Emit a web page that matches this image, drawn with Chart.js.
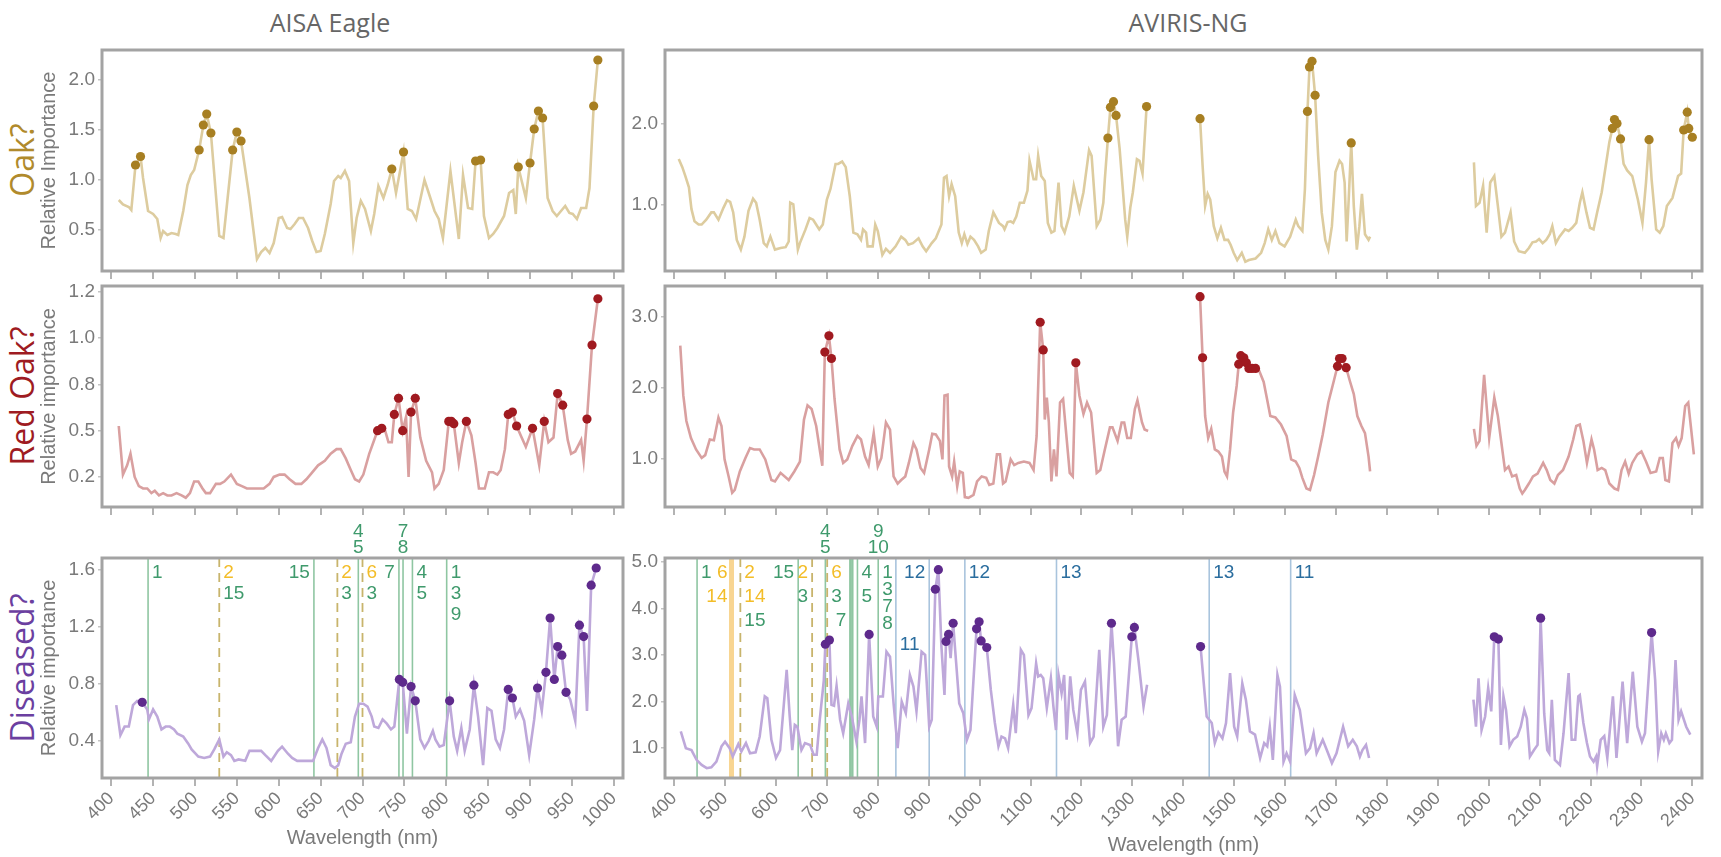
<!DOCTYPE html>
<html>
<head>
<meta charset="utf-8">
<script src="https://cdn.jsdelivr.net/npm/chart.js@4"></script>
<style>
  body { margin: 0; background: #fff; width: 1721px; height: 857px; overflow: hidden; position: relative; }
  canvas { position: absolute; }
  .t { position: absolute; transform: translate(-50%, -50%); white-space: nowrap; color: #666; font-family: "Open Sans", sans-serif; }
  .rot { transform: translate(-50%, -50%) rotate(-90deg); }
</style>
</head>
<body>
<div class="t" style="left:330px;top:22px;font-size:25px">AISA Eagle</div>
<div class="t" style="left:1188px;top:22px;font-size:25px">AVIRIS-NG</div>
<div class="t rot" style="left:21px;top:160px;font-size:32px;color:#b08a2c">Oak?</div>
<div class="t rot" style="left:21px;top:396px;font-size:32px;color:#9e1b22">Red Oak?</div>
<div class="t rot" style="left:21px;top:668px;font-size:32px;color:#6b3fa0">Diseased?</div>
<script>
// ---- data: [wavelength nm, relative importance] ----
const aisaOak = [[409,0.80],[414,0.755],[421,0.73],[424,0.70],[429,1.15],[435,1.235],[438,1.02],[444,0.69],[450,0.66],[455,0.61],
  [459,0.42],[462,0.49],[467,0.45],[472,0.47],[477,0.46],[480,0.45],[486,0.69],[491,0.95],[495,1.05],[499,1.10],
  [505,1.30],[510,1.55],[514,1.66],[519,1.47],[529,0.44],[534,0.42],[545,1.30],[550,1.48],[555,1.39],[565,0.82],
  [574,0.21],[579,0.28],[584,0.32],[589,0.27],[594,0.37],[600,0.62],[604,0.63],[610,0.52],[614,0.51],[619,0.56],
  [624,0.62],[629,0.62],[635,0.52],[640,0.39],[645,0.28],[650,0.29],[655,0.46],[662,0.76],[666,0.99],[671,1.04],
  [674,1.02],[679,1.09],[684,0.99],[689,0.37],[693,0.62],[698,0.79],[703,0.71],[710,0.49],[714,0.66],[719,0.94],
  [725,0.82],[730,0.95],[735,1.11],[740,0.87],[749,1.28],[754,0.71],[759,0.69],[764,0.61],[774,1.00],[781,0.82],
  [786,0.69],[791,0.61],[796,0.42],[805,1.09],[815,0.41],[820,1.05],[826,0.72],[831,0.71],[835,1.19],[841,1.20],
  [845,0.64],[851,0.42],[856,0.46],[861,0.52],[869,0.64],[875,0.87],[880,0.90],[883,0.66],[886,1.13],[895,0.82],
  [900,1.17],[905,1.51],[910,1.69],[915,1.62],[921,0.82],[927,0.69],[932,0.64],[937,0.69],[942,0.74],[947,0.67],
  [951,0.66],[956,0.61],[961,0.72],[967,0.72],[971,0.92],[976,1.74],[981,2.20]];
const aisaOakPeaks = [429,435,505,510,514,519,545,550,555,735,749,835,841,886,900,905,910,915,976,981];

const aisaRed = [[409,0.62],[414,0.41],[419,0.45],[423,0.50],[428,0.40],[433,0.36],[438,0.35],[443,0.35],[448,0.33],[452,0.34],
  [457,0.32],[462,0.33],[467,0.32],[472,0.32],[478,0.33],[484,0.32],[489,0.31],[494,0.33],[499,0.38],[504,0.38],
  [509,0.35],[513,0.33],[518,0.33],[525,0.37],[530,0.37],[535,0.38],[543,0.41],[550,0.37],[556,0.36],[562,0.35],
  [568,0.35],[574,0.35],[582,0.35],[589,0.37],[594,0.40],[601,0.41],[607,0.41],[613,0.39],[620,0.37],[627,0.37],
  [633,0.39],[640,0.42],[647,0.45],[655,0.47],[662,0.50],[669,0.52],[674,0.52],[680,0.48],[686,0.43],[691,0.39],
  [696,0.38],[701,0.41],[708,0.50],[713,0.55],[718,0.60],[723,0.61],[727,0.60],[731,0.55],[735,0.55],[738,0.67],
  [743,0.74],[748,0.60],[752,0.66],[755,0.40],[758,0.68],[763,0.74],[769,0.57],[776,0.47],[783,0.42],[786,0.35],
  [791,0.37],[797,0.43],[803,0.64],[806,0.64],[809,0.63],[815,0.46],[819,0.55],[824,0.64],[830,0.58],[835,0.46],
  [839,0.35],[846,0.35],[851,0.42],[856,0.42],[861,0.41],[865,0.43],[870,0.52],[874,0.67],[879,0.68],[884,0.62],
  [890,0.57],[895,0.53],[903,0.61],[911,0.45],[917,0.64],[922,0.55],[928,0.57],[933,0.76],[939,0.71],[945,0.56],
  [949,0.50],[954,0.51],[961,0.56],[964,0.47],[968,0.65],[974,0.97],[981,1.17]];
const aisaRedPeaks = [718,723,738,743,748,758,763,803,806,809,824,874,879,884,903,917,933,939,968,974,981];

const aisaDis = [[406,0.65],[411,0.44],[416,0.50],[421,0.50],[426,0.65],[431,0.68],[437,0.67],[443,0.62],[445,0.55],[450,0.62],
  [455,0.57],[460,0.48],[465,0.50],[470,0.50],[475,0.48],[479,0.45],[486,0.43],[492,0.38],[496,0.34],[504,0.29],
  [511,0.28],[518,0.29],[523,0.34],[529,0.41],[534,0.29],[538,0.32],[543,0.30],[547,0.26],[552,0.27],[560,0.26],
  [565,0.33],[572,0.33],[579,0.33],[584,0.30],[591,0.26],[599,0.33],[604,0.36],[611,0.31],[616,0.28],[622,0.26],
  [629,0.26],[635,0.26],[641,0.26],[647,0.35],[652,0.41],[657,0.35],[662,0.23],[667,0.21],[671,0.23],[675,0.31],
  [680,0.38],[686,0.39],[691,0.57],[696,0.66],[701,0.66],[706,0.64],[711,0.57],[714,0.50],[719,0.49],[724,0.55],
  [729,0.52],[734,0.48],[738,0.50],[744,0.83],[748,0.81],[753,0.45],[758,0.78],[763,0.68],[769,0.41],[774,0.35],
  [779,0.40],[784,0.47],[787,0.41],[792,0.36],[797,0.37],[804,0.68],[809,0.43],[813,0.33],[818,0.49],[822,0.33],
  [828,0.48],[833,0.79],[838,0.57],[844,0.23],[849,0.63],[854,0.61],[859,0.41],[864,0.35],[869,0.48],[874,0.76],
  [879,0.70],[883,0.57],[888,0.62],[893,0.54],[899,0.30],[905,0.55],[909,0.77],[914,0.61],[919,0.88],[924,1.26],
  [929,0.83],[933,1.06],[938,1.00],[943,0.74],[948,0.69],[954,0.54],[959,1.21],[964,1.13],[968,0.61],[973,1.49],
  [979,1.61]];
const aisaDisPeaks = [437,744,748,758,763,804,833,874,879,909,919,924,929,933,938,943,959,964,973,979];

const avirisOak = [[409,1.56],[416,1.46],[422,1.35],[429,1.21],[434,0.94],[440,0.79],[448,0.75],[454,0.75],[463,0.81],[473,0.90],
  [478,0.90],[487,0.81],[497,0.96],[504,1.05],[510,1.03],[516,0.90],[523,0.56],[531,0.44],[538,0.60],[546,0.92],
  [555,1.07],[561,1.02],[568,0.81],[576,0.52],[582,0.48],[589,0.60],[598,0.44],[609,0.46],[619,0.47],[625,0.54],
  [628,1.02],[634,1.00],[643,0.44],[647,0.52],[658,0.69],[666,0.83],[673,0.81],[685,0.69],[692,0.75],[700,1.06],
  [707,1.19],[717,1.50],[722,1.50],[730,1.53],[737,1.46],[745,1.10],[752,0.65],[760,0.63],[767,0.56],[771,0.69],
  [777,0.65],[780,0.48],[790,0.48],[795,0.75],[800,0.67],[809,0.375],[816,0.45],[824,0.40],[835,0.48],[846,0.60],
  [854,0.56],[860,0.50],[869,0.52],[880,0.58],[888,0.48],[895,0.42],[906,0.52],[914,0.58],[925,0.75],[930,1.33],
  [935,1.35],[940,1.10],[945,1.25],[952,1.10],[959,0.65],[965,0.52],[970,0.63],[976,0.51],[982,0.60],[989,0.56],
  [997,0.48],[1003,0.40],[1012,0.44],[1018,0.67],[1027,0.90],[1038,0.77],[1046,0.73],[1049,0.69],[1055,0.78],[1061,0.79],
  [1066,0.77],[1072,0.85],[1079,1.02],[1087,1.02],[1094,1.17],[1098,1.54],[1106,1.31],[1111,1.31],[1115,1.60],[1121,1.35],
  [1128,1.29],[1134,0.77],[1141,0.65],[1147,0.67],[1155,1.27],[1161,0.73],[1167,0.65],[1176,0.85],[1185,1.23],[1196,0.92],
  [1204,1.15],[1215,1.67],[1220,1.60],[1230,0.73],[1237,0.81],[1243,1.02],[1246,1.31],[1252,1.82],[1257,2.20],[1263,2.27],
  [1268,2.10],[1275,1.69],[1286,0.81],[1290,0.60],[1296,0.96],[1301,1.15],[1309,1.56],[1314,1.54],[1320,1.38],[1328,2.21],
  [1380,null],
  [1433,2.06],[1438,1.48],[1443,0.98],[1448,1.13],[1453,1.06],[1460,0.73],[1467,0.58],[1474,0.71],[1481,0.56],[1488,0.56],
  [1493,0.50],[1499,0.40],[1506,0.31],[1515,0.40],[1522,0.29],[1529,0.31],[1542,0.33],[1553,0.40],[1560,0.52],[1567,0.69],
  [1574,0.56],[1581,0.67],[1589,0.52],[1599,0.48],[1610,0.60],[1621,0.81],[1626,0.73],[1634,0.67],[1639,1.19],[1644,2.15],
  [1648,2.70],[1653,2.77],[1659,2.35],[1665,1.60],[1672,0.90],[1679,0.56],[1685,0.44],[1692,0.73],[1699,1.40],[1707,1.54],
  [1712,1.50],[1717,1.27],[1721,0.54],[1725,1.06],[1730,1.76],[1735,0.98],[1741,0.44],[1746,0.73],[1751,1.13],[1757,0.63],
  [1764,0.56],[1767,0.60],
  [1870,null],
  [1971,1.52],[1975,0.98],[1982,1.02],[1989,1.23],[1996,0.65],[2003,1.27],[2011,1.35],[2018,0.98],[2025,0.60],[2032,0.65],
  [2043,0.90],[2050,0.54],[2059,0.42],[2071,0.40],[2079,0.46],[2086,0.53],[2093,0.54],[2099,0.57],[2106,0.52],[2113,0.56],
  [2120,0.63],[2125,0.73],[2132,0.52],[2139,0.60],[2150,0.69],[2157,0.67],[2164,0.71],[2172,0.77],[2179,1.02],[2184,1.15],
  [2192,0.90],[2199,0.71],[2206,0.69],[2213,0.90],[2222,1.15],[2230,1.48],[2237,1.77],[2243,1.94],[2247,2.05],[2252,2.00],
  [2259,1.81],[2265,1.50],[2272,1.42],[2282,1.35],[2293,1.06],[2302,0.77],[2309,1.27],[2315,1.80],[2320,1.31],[2329,0.69],
  [2336,0.65],[2343,0.73],[2350,0.98],[2361,1.08],[2372,1.35],[2378,1.38],[2383,1.92],[2390,2.14],[2393,1.94],[2400,1.83]];
const avirisOakPeaks = [1252,1257,1263,1268,1328,1433,1644,1648,1653,1659,1730,2243,2247,2252,2259,2315,2383,2390,2393,2400];

const avirisRed = [[412,2.59],[418,1.89],[424,1.53],[433,1.29],[443,1.13],[454,1.01],[461,1.05],[470,1.27],[478,1.26],[487,1.58],
  [493,1.46],[499,0.99],[507,0.75],[514,0.52],[519,0.56],[529,0.82],[540,1.01],[549,1.15],[557,1.13],[568,1.13],
  [579,0.99],[591,0.70],[598,0.68],[609,0.80],[625,0.70],[636,0.82],[647,0.96],[655,1.55],[662,1.75],[670,1.70],
  [679,1.46],[687,1.08],[691,0.90],[696,2.50],[704,2.73],[709,2.41],[715,1.84],[725,1.13],[732,0.94],[740,0.99],
  [750,1.18],[760,1.32],[767,1.27],[775,1.03],[782,0.91],[792,1.36],[800,0.89],[807,1.01],[816,1.51],[824,1.41],
  [831,0.75],[839,0.65],[846,0.70],[854,0.75],[861,0.94],[870,1.22],[876,1.13],[884,0.87],[891,0.80],[901,1.13],
  [907,1.35],[914,1.34],[922,1.25],[927,0.99],[931,1.89],[937,1.90],[940,0.89],[946,0.75],[950,0.96],[956,0.61],
  [961,0.82],[967,0.80],[971,0.46],[978,0.45],[988,0.49],[995,0.68],[1004,0.75],[1013,0.73],[1019,0.63],[1027,0.65],
  [1034,1.06],[1040,1.06],[1046,0.65],[1051,0.68],[1061,0.99],[1068,0.91],[1076,0.94],[1087,0.96],[1098,0.94],[1106,0.84],
  [1112,1.32],[1119,2.92],[1125,2.53],[1128,1.55],[1132,1.86],[1136,1.51],[1141,0.68],[1146,1.13],[1151,0.75],[1158,1.79],
  [1164,1.84],[1170,1.36],[1177,0.80],[1183,0.75],[1189,2.35],[1196,1.89],[1204,1.63],[1211,1.79],[1219,1.65],[1230,0.80],
  [1237,0.84],[1246,1.13],[1256,1.44],[1261,1.44],[1271,1.25],[1279,1.51],[1284,1.51],[1290,1.29],[1297,1.29],[1305,1.70],
  [1310,1.82],[1319,1.51],[1324,1.41],[1331,1.39],
  [1380,null],
  [1433,3.28],[1438,2.42],[1443,1.60],[1449,1.29],[1455,1.42],[1462,1.13],[1469,1.10],[1476,1.03],[1481,0.82],[1486,0.75],
  [1492,1.13],[1498,1.65],[1505,2.03],[1509,2.33],[1513,2.45],[1519,2.42],[1524,2.35],[1529,2.27],[1535,2.27],[1542,2.27],
  [1549,2.24],[1558,2.08],[1564,1.86],[1571,1.60],[1581,1.58],[1592,1.48],[1603,1.32],[1612,0.99],[1621,0.96],[1628,0.87],
  [1634,0.73],[1642,0.58],[1649,0.56],[1657,0.77],[1665,1.03],[1674,1.34],[1685,1.79],[1696,2.10],[1703,2.30],[1707,2.41],
  [1712,2.41],[1720,2.28],[1727,2.10],[1735,1.91],[1742,1.60],[1750,1.46],[1757,1.36],[1764,1.03],[1767,0.82],
  [1870,null],
  [1971,1.42],[1976,1.18],[1982,1.25],[1991,2.18],[2001,1.29],[2011,1.86],[2018,1.60],[2025,1.22],[2032,0.84],[2039,0.89],
  [2046,0.75],[2054,0.77],[2061,0.58],[2066,0.51],[2071,0.56],[2079,0.65],[2087,0.75],[2096,0.79],[2107,0.94],[2114,0.84],
  [2121,0.70],[2129,0.65],[2136,0.77],[2146,0.84],[2157,1.03],[2166,1.27],[2172,1.46],[2179,1.48],[2186,1.25],[2193,0.94],
  [2202,1.27],[2207,1.13],[2214,0.84],[2222,0.87],[2229,0.84],[2237,0.65],[2247,0.58],[2254,0.56],[2261,0.84],[2268,0.96],
  [2275,0.79],[2282,0.94],[2292,1.06],[2300,1.10],[2309,0.96],[2318,0.80],[2329,0.82],[2336,1.01],[2342,1.01],[2347,0.70],
  [2354,0.68],[2361,1.22],[2368,1.29],[2373,1.18],[2379,1.29],[2386,1.74],[2392,1.79],[2397,1.46],[2403,1.06]];
const avirisRedPeaks = [696,704,709,1119,1125,1189,1433,1438,1509,1513,1519,1524,1529,1535,1542,1703,1707,1712,1720];

const avirisDis = [[413,1.36],[423,1.00],[434,0.96],[444,0.75],[454,0.64],[464,0.57],[473,0.59],[483,0.71],[493,1.04],[500,1.14],
  [509,1.00],[515,0.82],[526,1.09],[532,0.93],[541,1.11],[549,0.89],[560,0.91],[568,1.25],[578,2.11],[583,2.07],
  [591,1.18],[600,0.79],[608,0.96],[621,2.68],[627,1.68],[632,0.96],[637,1.50],[642,1.46],[650,0.96],[657,1.11],
  [667,1.07],[674,0.86],[680,0.86],[686,1.61],[694,2.46],[697,3.23],[705,3.32],[709,1.93],[714,1.91],[719,2.34],
  [726,1.61],[732,1.32],[742,1.96],[749,1.68],[758,1.14],[764,1.61],[768,2.11],[775,1.11],[783,3.44],[791,1.68],
  [798,1.46],[801,2.11],[810,2.11],[817,3.07],[824,2.96],[831,1.96],[839,1.00],[847,2.00],[855,1.75],[863,2.57],
  [870,2.32],[876,1.79],[886,3.07],[893,3.00],[901,1.46],[906,1.61],[913,4.41],[919,4.83],[925,3.18],[931,2.14],
  [934,3.29],[939,3.44],[943,2.93],[948,3.68],[954,2.82],[960,1.96],[968,1.75],[975,1.18],[982,1.39],[994,3.56],
  [999,3.71],[1003,3.30],[1014,3.16],[1022,2.25],[1030,1.54],[1037,1.04],[1043,1.25],[1050,1.21],[1056,1.00],[1066,1.93],
  [1071,1.32],[1081,3.11],[1087,3.00],[1096,1.71],[1102,1.86],[1111,2.82],[1115,2.54],[1120,2.57],[1125,2.50],[1132,1.86],
  [1140,2.50],[1145,1.89],[1150,1.39],[1155,2.57],[1161,2.18],[1166,2.57],[1171,1.18],[1178,2.54],[1184,1.82],[1192,1.32],
  [1199,2.25],[1207,2.43],[1217,1.11],[1224,1.25],[1235,3.11],[1243,1.46],[1250,1.71],[1259,3.68],[1264,2.82],[1272,1.04],
  [1279,1.61],[1287,1.68],[1299,3.39],[1304,3.59],[1312,2.89],[1322,1.89],[1329,2.36],
  [1380,null],
  [1434,3.18],[1446,1.68],[1456,1.54],[1462,1.11],[1469,1.34],[1477,1.21],[1484,1.54],[1492,2.61],[1500,1.46],[1506,1.25],
  [1516,2.39],[1523,2.04],[1531,1.36],[1541,1.29],[1551,0.79],[1559,1.11],[1565,1.04],[1570,1.46],[1576,0.75],[1585,2.57],
  [1590,2.32],[1597,0.71],[1603,0.89],[1610,0.71],[1619,2.14],[1629,1.82],[1641,0.89],[1649,1.00],[1656,1.32],[1662,0.89],
  [1674,1.18],[1682,0.96],[1692,0.68],[1701,0.89],[1714,1.46],[1724,1.04],[1733,1.18],[1741,1.04],[1747,0.82],[1752,0.96],
  [1759,1.07],[1765,0.79],
  [1870,null],
  [1970,2.04],[1975,1.46],[1980,2.50],[1986,1.39],[1993,1.68],[1999,2.29],[2005,1.79],[2011,3.39],[2019,3.34],[2024,1.07],
  [2029,2.11],[2034,1.82],[2041,1.04],[2048,1.18],[2056,1.25],[2063,1.46],[2070,1.82],[2075,1.64],[2081,0.82],[2089,0.96],
  [2096,1.07],[2102,3.79],[2109,1.75],[2115,0.96],[2119,0.89],[2124,2.04],[2130,0.75],[2140,0.64],[2147,1.32],[2157,2.61],
  [2163,1.18],[2170,1.18],[2176,2.11],[2179,2.14],[2186,1.54],[2193,1.11],[2199,0.82],[2206,0.71],[2211,0.82],[2213,0.61],
  [2220,1.18],[2227,1.26],[2233,0.79],[2244,2.11],[2251,0.79],[2263,2.43],[2272,1.11],[2283,2.64],[2292,1.46],[2301,1.14],
  [2307,1.32],[2320,3.48],[2327,2.46],[2333,0.93],[2339,1.32],[2344,1.18],[2348,1.32],[2355,1.11],[2360,1.18],[2367,2.89],
  [2373,1.61],[2378,1.79],[2388,1.46],[2396,1.29]];
const avirisDisPeaks = [697,705,783,913,919,934,939,948,994,999,1003,1014,1259,1299,1304,1434,2011,2019,2102,2320];

// ---- tick labels ----
const aisaXTicks = [400,450,500,550,600,650,700,750,800,850,900,950,1000];
const avirisXTicks = [400,500,600,700,800,900,1000,1100,1200,1300,1400,1500,1600,1700,1800,1900,2000,2100,2200,2300,2400];
const aisaOakYTicks = [0.5,1.0,1.5,2.0];
const aisaOakYLabels = ['0.5','1.0','1.5','2.0'];
const aisaRedYTicks = [0.4,0.6,0.8,1.0,1.2];
const aisaRedYLabels = ['0.2','0.5','0.8','1.0','1.2'];
const aisaDisYTicks = [0.4,0.8,1.2,1.6];
const aisaDisYLabels = ['0.4','0.8','1.2','1.6'];
const avirisOakYTicks = [1.0,2.0];
const avirisOakYLabels = ['1.0','2.0'];
const avirisRedYTicks = [1.0,2.0,3.0];
const avirisRedYLabels = ['1.0','2.0','3.0'];
const avirisDisYTicks = [1.0,2.0,3.0,4.0,5.0];
const avirisDisYLabels = ['1.0','2.0','3.0','4.0','5.0'];

// ---- band markers in the Diseased row: [wavelength, kind] ----
const aisaLines = [[444,'g'],[529,'yd'],[642,'g'],[670,'yd'],[695,'g'],[700,'yd'],[743.5,'g'],[748.4,'g'],[759.6,'g'],[800.5,'g']];
const aisaLabels = [
  {wl: 444, side: 'r', text: ['1'], col: ['g']},
  {wl: 529, side: 'r', text: ['2','15'], col: ['y','g']},
  {wl: 642, side: 'l', text: ['15'], col: ['g']},
  {wl: 670, side: 'r', text: ['2','3'], col: ['y','g']},
  {wl: 695, side: 't', text: ['4','5'], col: ['g','g']},
  {wl: 700, side: 'r', text: ['6','3'], col: ['y','g']},
  {wl: 743.5, side: 'l', text: ['7'], col: ['g']},
  {wl: 748.4, side: 't', text: ['7','8'], col: ['g','g']},
  {wl: 759.6, side: 'r', text: ['4','5'], col: ['g','g']},
  {wl: 800.5, side: 'r', text: ['1','3','9'], col: ['g','g','g']}
];
const avirisLines = [[445,'g'],[512.6,'yb'],[530,'yd'],[643.6,'g'],[671,'yd'],[697,'g'],[700.6,'yd'],[746,'g2'],[750,'g2'],
  [760,'g'],[800.8,'g'],[835.5,'b'],[901,'b'],[971,'b'],[1151,'b'],[1451,'b'],[1611,'b']];
const avirisLabels = [
  {wl: 445, side: 'r', text: ['1'], col: ['g']},
  {wl: 512.6, side: 'l', text: ['6','14'], col: ['y','y']},
  {wl: 530, side: 'r', text: ['2','14','15'], col: ['y','y','g']},
  {wl: 643.6, side: 'l', text: ['15'], col: ['g']},
  {wl: 671, side: 'l', text: ['2','3'], col: ['y','g']},
  {wl: 697, side: 't', text: ['4','5'], col: ['g','g']},
  {wl: 700.6, side: 'r', text: ['6','3'], col: ['y','g']},
  {wl: 746, side: 'l', row: 2, text: ['7'], col: ['g']},
  {wl: 760, side: 'r', text: ['4','5'], col: ['g','g']},
  {wl: 800.8, side: 't', text: ['9','10'], col: ['g','g']},
  {wl: 800.8, side: 'r', gap: 17, text: ['1','3','7','8'], col: ['g','g','g','g']},
  {wl: 835.5, side: 'r', row: 3, text: ['11'], col: ['b']},
  {wl: 901, side: 'l', text: ['12'], col: ['b']},
  {wl: 971, side: 'r', text: ['12'], col: ['b']},
  {wl: 1151, side: 'r', text: ['13'], col: ['b']},
  {wl: 1451, side: 'r', text: ['13'], col: ['b']},
  {wl: 1611, side: 'r', text: ['11'], col: ['b']}
];

// ---- styles ----
const AXIS_FONT = '"Liberation Sans", Arial, sans-serif';
const GRAY = '#7a7a7a';
const LINE_STYLE = {
  g:  {c: '#8fc6a2', w: 1.6, d: []},
  g2: {c: '#8fc6a2', w: 2.4, d: []},
  yd: {c: '#c8b46c', w: 1.8, d: [9, 6]},
  yb: {c: '#f8d592', w: 5, d: []},
  b:  {c: '#a9c4dd', w: 1.6, d: []}
};
const TEXT_COL = {g: '#3f9a6c', y: '#f3bd28', b: '#2a6d9e'};

const LEFT = {l: 102, r: 623}, RIGHT = {l: 665, r: 1702};
const ROWS = [{t: 50, b: 271}, {t: 286, b: 507}, {t: 558, b: 778}];

const boxPlugin = {
  id: 'box',
  afterDraw(chart) {
    const {ctx, chartArea: a} = chart;
    ctx.save();
    ctx.strokeStyle = '#a3a3a3';
    ctx.lineWidth = 3;
    ctx.strokeRect(a.left, a.top, a.right - a.left, a.bottom - a.top);
    ctx.restore();
  }
};

function markerPlugin(lines, labels, gap) {
  return {
    id: 'markers',
    beforeDatasetsDraw(chart) {
      const {ctx, chartArea: a, scales: {x}} = chart;
      ctx.save();
      lines.forEach(([w, k]) => {
        const s = LINE_STYLE[k], px = x.getPixelForValue(w);
        ctx.strokeStyle = s.c; ctx.lineWidth = s.w; ctx.setLineDash(s.d);
        ctx.beginPath(); ctx.moveTo(px, a.top); ctx.lineTo(px, a.bottom); ctx.stroke();
      });
      ctx.setLineDash([]);
      ctx.font = '19px ' + AXIS_FONT;
      ctx.textBaseline = 'middle';
      labels.forEach(lb => {
        const px = x.getPixelForValue(lb.wl);
        lb.text.forEach((t, i) => {
          ctx.fillStyle = TEXT_COL[lb.col[i]];
          if (lb.side === 't') {
            ctx.textAlign = 'center';
            ctx.fillText(t, px, a.top - 10 - (lb.text.length - 1 - i) * 16);
          } else {
            ctx.textAlign = lb.side === 'r' ? 'left' : 'right';
            const y = a.top + 15 + ((lb.row || 0) * gap) + i * (lb.gap || gap);
            ctx.fillText(t, lb.side === 'r' ? px + 4 : px - 4, y);
          }
        });
      });
      ctx.restore();
    }
  };
}

function panel(col, row, o) {
  const padTop = o.padTop || 6, padRight = 10;
  const cv = document.createElement('canvas');
  cv.width = col.r - col.l + o.yw + padRight;
  cv.height = row.b - row.t + padTop + o.xh;
  cv.style.left = (col.l - o.yw) + 'px';
  cv.style.top = (row.t - padTop) + 'px';
  document.body.appendChild(cv);

  const line = o.data.map(([w, v]) => ({x: w, y: v}));
  const dots = o.peaks.map(w => ({x: w, y: o.data.find(p => p[0] === w)[1]}));
  const plugins = [boxPlugin];
  if (o.lines) plugins.push(markerPlugin(o.lines, o.labels, o.gap));

  new Chart(cv, {
    type: 'line',
    data: {
      datasets: [
        {data: dots, showLine: false, pointRadius: 4.6, pointBackgroundColor: o.dot, pointBorderWidth: 0, order: 0},
        {data: line, borderColor: o.line, borderWidth: 2.6, pointRadius: 0, spanGaps: false, tension: 0, order: 1}
      ]
    },
    options: {
      responsive: false,
      animation: false,
      devicePixelRatio: 1,
      events: [],
      layout: {padding: {top: padTop, right: padRight, left: 0, bottom: 0}},
      plugins: {legend: {display: false}, tooltip: {enabled: false}},
      scales: {
        x: {
          type: 'linear', min: o.xMin, max: o.xMax,
          afterBuildTicks: s => { s.ticks = o.xTicks.map(v => ({value: v})); },
          afterFit: s => { s.height = o.xh; s.paddingLeft = 0; s.paddingRight = 0; },
          ticks: {display: !!o.xTitle, autoSkip: false, minRotation: 45, maxRotation: 45, padding: 2,
                  color: GRAY, font: {family: AXIS_FONT, size: 18}, callback: v => String(v)},
          grid: {drawOnChartArea: false, drawTicks: true, tickLength: 8, color: '#b3b3b3', lineWidth: 2},
          border: {display: false},
          title: {display: !!o.xTitle, text: o.xTitle, color: GRAY, padding: 0, font: {family: AXIS_FONT, size: 20}}
        },
        y: {
          min: o.yMin, max: o.yMax,
          afterBuildTicks: s => { s.ticks = o.yTicks.map(v => ({value: v})); },
          afterFit: s => { s.width = o.yw; s.paddingTop = 0; s.paddingBottom = 0; },
          ticks: {padding: 3, color: GRAY, font: {family: AXIS_FONT, size: 19},
                  callback: (v, i) => o.yLabels[i]},
          grid: {drawOnChartArea: false, drawTicks: true, tickLength: 4, color: '#c4c4c4', lineWidth: 1.5},
          border: {display: false},
          title: {display: !!o.yTitle, text: o.yTitle, color: GRAY, padding: 0, font: {family: AXIS_FONT, size: 20}}
        }
      }
    },
    plugins: plugins
  });
}

const OAK = {line: '#ddcc9f', dot: '#a77f22'};
const RED = {line: '#d9a0a0', dot: '#a01a20'};
const DIS = {line: '#bea8da', dot: '#5e2a8c'};
const aisaX = {xMin: 389, xMax: 1011, xTicks: aisaXTicks, yw: 65};
const avirisX = {xMin: 382, xMax: 2419, xTicks: avirisXTicks, yw: 52};

panel(LEFT, ROWS[0], Object.assign({}, aisaX, OAK, {data: aisaOak, peaks: aisaOakPeaks, xh: 10,
  yMin: 0.09, yMax: 2.3, yTicks: aisaOakYTicks, yLabels: aisaOakYLabels, yTitle: 'Relative Importance'}));
panel(RIGHT, ROWS[0], Object.assign({}, avirisX, OAK, {data: avirisOak, peaks: avirisOakPeaks, xh: 10,
  yMin: 0.175, yMax: 2.91, yTicks: avirisOakYTicks, yLabels: avirisOakYLabels}));
panel(LEFT, ROWS[1], Object.assign({}, aisaX, RED, {data: aisaRed, peaks: aisaRedPeaks, xh: 10,
  yMin: 0.27, yMax: 1.225, yTicks: aisaRedYTicks, yLabels: aisaRedYLabels, yTitle: 'Relative importance'}));
panel(RIGHT, ROWS[1], Object.assign({}, avirisX, RED, {data: avirisRed, peaks: avirisRedPeaks, xh: 10,
  yMin: 0.32, yMax: 3.43, yTicks: avirisRedYTicks, yLabels: avirisRedYLabels}));
panel(LEFT, ROWS[2], Object.assign({}, aisaX, DIS, {data: aisaDis, peaks: aisaDisPeaks, xh: 72, padTop: 60,
  yMin: 0.14, yMax: 1.68, yTicks: aisaDisYTicks, yLabels: aisaDisYLabels, yTitle: 'Relative importance',
  xTitle: 'Wavelength (nm)', lines: aisaLines, labels: aisaLabels, gap: 21}));
panel(RIGHT, ROWS[2], Object.assign({}, avirisX, DIS, {data: avirisDis, peaks: avirisDisPeaks, xh: 79, padTop: 60,
  yMin: 0.36, yMax: 5.08, yTicks: avirisDisYTicks, yLabels: avirisDisYLabels,
  xTitle: 'Wavelength (nm)', lines: avirisLines, labels: avirisLabels, gap: 24}));
</script>
</body>
</html>
